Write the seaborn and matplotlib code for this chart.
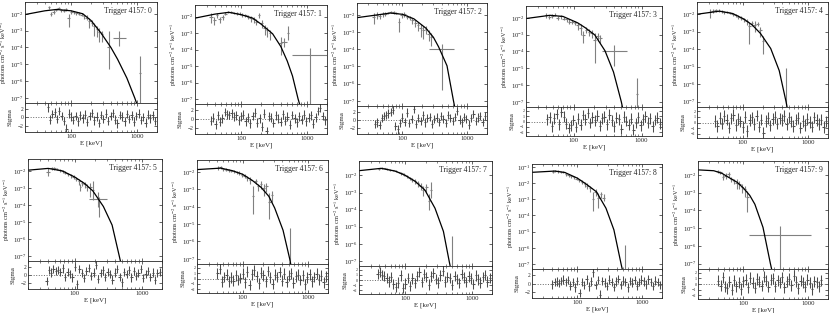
import numpy as np
import matplotlib
matplotlib.use("Agg")
import matplotlib.pyplot as plt
import matplotlib.ticker as ticker
import seaborn as sns

# spectral fits of trigger 4157, time bins 0..9
# model curve per bin: (E keV, photons cm-2 s-1 keV-1)
model0 = [(20, 9e-3), (40, 1.5e-2), (60, 1.8e-2), (100, 1.5e-2), (150, 1.0e-2), (200, 4e-3),
          (285, 7e-4), (400, 1e-4), (505, 2e-5), (700, 1.5e-6), (920, 1e-7), (1000, 4e-8)]
model1 = [(20, 8e-3), (40, 1.4e-2), (65, 1.8e-2), (100, 1.3e-2), (150, 8e-3), (200, 3.5e-3),
          (300, 9e-4), (400, 1.5e-4), (500, 2e-5), (600, 2.5e-6), (730, 1e-7), (780, 4e-8)]
model2 = [(20, 7e-3), (40, 1.0e-2), (65, 1.3e-2), (100, 1.1e-2), (150, 6e-3), (230, 1.7e-3),
          (300, 5e-4), (360, 1.4e-4), (485, 1.1e-5), (610, 1e-7), (640, 4e-8)]
model3 = [(20, 9e-3), (45, 1.4e-2), (70, 1.2e-2), (115, 5e-3), (150, 2.5e-3), (205, 9.6e-4),
          (290, 1.1e-4), (387, 6e-6), (505, 1e-7), (530, 4e-8)]
model4 = [(20, 1e-2), (44, 1.5e-2), (70, 1.1e-2), (103, 5.4e-3), (140, 2.4e-3), (186, 8e-4),
          (267, 1.1e-4), (360, 6e-6), (458, 1e-7), (480, 4e-8)]
model5 = [(20, 1.1e-2), (40, 1.4e-2), (65, 1.0e-2), (100, 4.3e-3), (140, 1.8e-3), (186, 6.6e-4),
          (267, 8e-5), (360, 6.5e-6), (460, 1e-7), (485, 4e-8)]
model6 = [(20, 1.4e-2), (46, 1.7e-2), (70, 1.2e-2), (100, 7.4e-3), (140, 3.3e-3), (191, 1.3e-3),
          (250, 4e-4), (307, 8.5e-5), (412, 4.4e-6), (520, 1e-7), (545, 4e-8)]
model7 = [(20, 1.9e-2), (43, 2.6e-2), (70, 1.8e-2), (100, 1e-2), (140, 4.5e-3), (196, 1.4e-3),
          (278, 1.2e-4), (372, 5.3e-6), (453, 1e-7), (475, 4e-8)]
model8 = [(20, 4.6e-2), (45, 5.5e-2), (64, 4.5e-2), (100, 2.0e-2), (140, 8e-3), (196, 2.9e-3),
          (275, 2.8e-4), (364, 1.3e-5), (470, 1e-7), (495, 4e-8)]
model9 = [(20, 1.9e-2), (35, 1.7e-2), (47, 1.2e-2), (60, 7e-3), (80, 3.8e-3), (100, 1.8e-3),
          (125, 7e-4), (150, 2.2e-4), (200, 1.1e-5), (260, 1e-7), (275, 4e-8)]

# measured points per bin: (E low, E high, flux, flux low, flux high)
spec0 = [(44, 48, 2.5e-2, 2.0e-2, 3.0e-2), (48, 52, 1.0e-2, 7e-3, 1.3e-2), (52, 57, 1.3e-2, 1.0e-2, 1.6e-2),
         (57, 62, 1.7e-2, 1.4e-2, 2.0e-2), (62, 68, 2.1e-2, 1.8e-2, 2.4e-2), (68, 74, 1.6e-2, 1.3e-2, 1.9e-2),
         (74, 81, 1.5e-2, 1.2e-2, 1.8e-2), (81, 88, 1.8e-2, 1.5e-2, 2.1e-2), (88, 96, 6e-3, 1.6e-3, 1.0e-2),
         (96, 105, 1.3e-2, 1.0e-2, 1.6e-2), (105, 115, 1.2e-2, 1.0e-2, 1.4e-2), (115, 126, 1.1e-2, 9e-3, 1.3e-2),
         (126, 138, 1.0e-2, 8e-3, 1.2e-2), (138, 151, 9e-3, 7e-3, 1.1e-2), (151, 165, 7e-3, 5e-3, 9e-3),
         (165, 180, 6e-3, 4e-3, 8e-3), (180, 197, 3.5e-3, 1.5e-3, 5.5e-3), (197, 215, 3e-3, 1.8e-3, 4.2e-3),
         (215, 235, 1.8e-3, 5e-4, 3e-3), (235, 257, 1.2e-3, 4e-4, 2e-3), (257, 281, 8e-4, 2e-4, 1.4e-3),
         (281, 307, 6e-4, 2e-4, 1e-3), (355, 385, 1e-4, 5e-6, 1e-3), (425, 670, 3.5e-4, 1.2e-4, 1.0e-3),
         (1050, 1150, 3e-6, 1e-9, 3e-5)]
spec1 = [(33, 37, 1.0e-2, 4e-3, 1.6e-2), (37, 41, 6e-3, 3e-3, 9e-3), (41, 45, 1.2e-2, 8e-3, 1.6e-2),
         (45, 50, 7e-3, 4e-3, 1.0e-2), (50, 55, 9e-3, 6e-3, 1.2e-2), (55, 61, 1.5e-2, 1.2e-2, 1.8e-2),
         (61, 67, 1.9e-2, 1.6e-2, 2.2e-2), (67, 74, 2.0e-2, 1.7e-2, 2.3e-2), (74, 82, 1.7e-2, 1.4e-2, 2.0e-2),
         (82, 90, 1.6e-2, 1.3e-2, 1.9e-2), (90, 100, 1.5e-2, 1.2e-2, 1.8e-2), (100, 110, 1.3e-2, 1.0e-2, 1.6e-2),
         (110, 121, 1.2e-2, 9e-3, 1.5e-2), (121, 133, 1.0e-2, 7e-3, 1.3e-2), (133, 147, 8e-3, 5e-3, 1.1e-2),
         (147, 162, 7e-3, 4e-3, 1.0e-2), (162, 178, 5e-3, 3e-3, 7e-3), (178, 196, 1.2e-2, 8e-3, 1.6e-2),
         (196, 216, 4e-3, 2e-3, 6e-3), (216, 238, 2e-3, 8e-4, 3.2e-3), (238, 262, 1.5e-3, 6e-4, 2.4e-3),
         (262, 288, 1e-3, 4e-4, 1.6e-3), (380, 420, 2.5e-4, 5e-5, 6e-4), (400, 500, 3e-4, 1.5e-4, 5e-4),
         (500, 540, 1e-3, 4e-4, 2.5e-3), (600, 2000, 4.4e-5, 1e-9, 1.3e-4)]
spec2 = [(34, 38, 8e-3, 3e-3, 1.3e-2), (38, 42, 1.0e-2, 6e-3, 1.4e-2), (42, 47, 9e-3, 6e-3, 1.2e-2),
         (47, 52, 1.1e-2, 8e-3, 1.4e-2), (52, 57, 1.2e-2, 9e-3, 1.5e-2), (57, 63, 1.3e-2, 1.1e-2, 1.5e-2),
         (63, 70, 1.5e-2, 1.3e-2, 1.7e-2), (70, 77, 1.4e-2, 1.2e-2, 1.6e-2), (77, 85, 1.3e-2, 1.1e-2, 1.5e-2),
         (85, 93, 4e-3, 1e-3, 7e-3), (93, 102, 1.0e-2, 7e-3, 1.3e-2), (102, 112, 1.1e-2, 8e-3, 1.4e-2),
         (112, 124, 8e-3, 6e-3, 1e-2), (124, 136, 7e-3, 5e-3, 9e-3), (136, 150, 5e-3, 3e-3, 7e-3),
         (150, 165, 3.5e-3, 2e-3, 5e-3), (165, 182, 2.5e-3, 1.2e-3, 3.8e-3), (182, 200, 1.8e-3, 5e-4, 3e-3),
         (200, 220, 1.3e-3, 4e-4, 2.2e-3), (220, 242, 1.5e-3, 8e-4, 2.2e-3), (242, 266, 8e-4, 3e-4, 1.3e-3),
         (266, 293, 5e-4, 1.5e-4, 9e-4), (260, 630, 1e-4, 4e-7, 2e-4)]
spec3 = [(38, 42, 1.4e-2, 1.0e-2, 1.8e-2), (42, 46, 1.1e-2, 8e-3, 1.4e-2), (46, 51, 1.3e-2, 1e-2, 1.6e-2),
         (51, 56, 1.5e-2, 1.2e-2, 1.8e-2), (56, 62, 1.0e-2, 7e-3, 1.3e-2), (62, 68, 1.2e-2, 9e-3, 1.5e-2),
         (68, 75, 9e-3, 7e-3, 1.1e-2), (75, 83, 8e-3, 6e-3, 1e-2), (83, 91, 6e-3, 4e-3, 8e-3),
         (91, 100, 6e-3, 4.5e-3, 7.5e-3), (100, 110, 5e-3, 3.5e-3, 6.5e-3), (110, 121, 3.5e-3, 2e-3, 5e-3),
         (121, 133, 2.5e-3, 1e-3, 4e-3), (133, 146, 1e-3, 3e-4, 1.7e-3), (146, 161, 2e-3, 1.2e-3, 2.8e-3),
         (161, 177, 1.5e-3, 8e-4, 2.2e-3), (177, 195, 1.2e-3, 6e-4, 1.8e-3), (195, 215, 5e-4, 2e-5, 1.2e-3),
         (215, 237, 8e-4, 4e-4, 1.2e-3), (237, 260, 6e-4, 3e-4, 9e-4), (260, 610, 1e-4, 1.3e-5, 2.5e-4),
         (840, 900, 3e-7, 1e-9, 2.5e-6)]
spec4 = [(30, 33, 1.3e-2, 6e-3, 2e-2), (33, 37, 1.6e-2, 1.2e-2, 2e-2), (37, 41, 1.7e-2, 1.4e-2, 2e-2),
         (41, 45, 1.6e-2, 1.3e-2, 1.9e-2), (45, 50, 1.5e-2, 1.2e-2, 1.8e-2), (50, 55, 1.3e-2, 1.1e-2, 1.5e-2),
         (55, 61, 1.4e-2, 1.2e-2, 1.6e-2), (61, 67, 1.2e-2, 1e-2, 1.4e-2), (67, 74, 1.0e-2, 8e-3, 1.2e-2),
         (74, 82, 9e-3, 7e-3, 1.1e-2), (82, 90, 7e-3, 5.5e-3, 8.5e-3), (90, 99, 6e-3, 4.5e-3, 7.5e-3),
         (99, 109, 5e-3, 3.5e-3, 6.5e-3), (109, 120, 4e-3, 2.5e-3, 5.5e-3), (120, 132, 2e-3, 2e-4, 3.5e-3),
         (132, 145, 3e-3, 2e-3, 4e-3), (145, 160, 2.5e-3, 1e-3, 4e-3), (160, 176, 2.8e-3, 2e-3, 3.6e-3),
         (176, 194, 1.2e-3, 5e-4, 1.9e-3), (194, 214, 3e-4, 5e-5, 6e-4), (440, 480, 1e-8, 1e-9, 8.8e-6)]
spec5 = [(37, 43, 9e-3, 5e-3, 1.4e-2), (43, 47, 1.5e-2, 1.2e-2, 1.8e-2), (47, 52, 1.4e-2, 1.1e-2, 1.7e-2),
         (52, 57, 1.3e-2, 1.1e-2, 1.5e-2), (57, 63, 1.1e-2, 9e-3, 1.3e-2), (63, 69, 1.0e-2, 8e-3, 1.2e-2),
         (69, 76, 8e-3, 6.5e-3, 9.5e-3), (76, 84, 6.5e-3, 5e-3, 8e-3), (84, 92, 5.5e-3, 4e-3, 7e-3),
         (92, 101, 4.5e-3, 3.5e-3, 5.5e-3), (101, 111, 3.5e-3, 2.5e-3, 4.5e-3), (111, 122, 2.5e-3, 1.5e-3, 3.5e-3),
         (118, 124, 1.2e-3, 7e-4, 1.7e-3), (122, 134, 2e-3, 1.3e-3, 2.7e-3), (134, 147, 1.6e-3, 1e-3, 2.2e-3),
         (147, 162, 1.2e-3, 7e-4, 1.7e-3), (162, 178, 1.1e-3, 3e-4, 2e-3), (178, 196, 8e-4, 2e-4, 2.5e-3),
         (165, 300, 2.1e-4, 8e-5, 6e-4), (220, 240, 1.5e-4, 2e-5, 3e-4)]
spec6 = [(40, 44, 1.8e-2, 1.4e-2, 2.2e-2), (44, 48, 2.0e-2, 1.6e-2, 2.4e-2), (48, 53, 1.5e-2, 1.2e-2, 1.8e-2),
         (53, 58, 1.4e-2, 1.1e-2, 1.7e-2), (58, 64, 1.3e-2, 1.0e-2, 1.6e-2), (64, 70, 1.2e-2, 1.0e-2, 1.4e-2),
         (70, 77, 1.1e-2, 9e-3, 1.3e-2), (77, 85, 1.0e-2, 8e-3, 1.2e-2), (85, 93, 9e-3, 7e-3, 1.1e-2),
         (93, 102, 7e-3, 5.5e-3, 8.5e-3), (102, 112, 6e-3, 4.5e-3, 7.5e-3), (112, 124, 4.5e-3, 3e-3, 6e-3),
         (124, 136, 3.5e-3, 2e-3, 5e-3), (136, 150, 4e-4, 4e-5, 1.5e-3), (150, 165, 3e-3, 2e-3, 4e-3),
         (165, 181, 1.5e-3, 8e-4, 2.2e-3), (181, 199, 2e-3, 1e-3, 3e-3), (199, 219, 1.2e-3, 4e-4, 2e-3),
         (219, 241, 1.5e-3, 7e-4, 2.3e-3), (241, 265, 2e-4, 2e-5, 6e-4), (265, 291, 5e-4, 2e-4, 8e-4),
         (510, 550, 1e-8, 1e-9, 5.6e-6)]
spec7 = [(38, 42, 2.4e-2, 2.0e-2, 2.8e-2), (42, 46, 2.7e-2, 2.3e-2, 3.1e-2), (46, 51, 2.6e-2, 2.3e-2, 2.9e-2),
         (51, 56, 2.4e-2, 2.1e-2, 2.7e-2), (56, 62, 2.2e-2, 1.9e-2, 2.5e-2), (62, 68, 2.0e-2, 1.8e-2, 2.2e-2),
         (68, 75, 1.8e-2, 1.6e-2, 2.0e-2), (75, 83, 1.5e-2, 1.3e-2, 1.7e-2), (83, 91, 1.3e-2, 1.1e-2, 1.5e-2),
         (91, 100, 1.1e-2, 9e-3, 1.3e-2), (100, 110, 9e-3, 7.5e-3, 1.05e-2), (110, 121, 7e-3, 5.5e-3, 8.5e-3),
         (121, 133, 5.5e-3, 4e-3, 7e-3), (133, 146, 4.5e-3, 3.2e-3, 5.8e-3), (146, 161, 3.5e-3, 2.2e-3, 4.8e-3),
         (161, 177, 2.5e-3, 1.5e-3, 3.5e-3), (177, 195, 1.5e-3, 6e-4, 2.4e-3), (195, 215, 2e-3, 1e-3, 3e-3),
         (215, 237, 3e-4, 1e-4, 8e-4), (230, 250, 1.5e-3, 5e-4, 4e-3), (480, 510, 1e-8, 1e-9, 2.8e-6)]
spec8 = [(40, 44, 5e-2, 4e-2, 6e-2), (44, 48, 5.5e-2, 4.5e-2, 6.5e-2), (48, 53, 5.2e-2, 4.4e-2, 6e-2),
         (53, 58, 5e-2, 4.3e-2, 5.7e-2), (58, 64, 4.6e-2, 4e-2, 5.2e-2), (64, 70, 3.5e-2, 2.8e-2, 4.2e-2),
         (70, 77, 3.0e-2, 2.5e-2, 3.5e-2), (77, 85, 2.6e-2, 2.1e-2, 3.1e-2), (85, 93, 2.3e-2, 1.9e-2, 2.7e-2),
         (93, 102, 1.9e-2, 1.5e-2, 2.3e-2), (102, 112, 1.5e-2, 1.2e-2, 1.8e-2), (112, 124, 1.2e-2, 9e-3, 1.5e-2),
         (124, 136, 9e-3, 6e-3, 1.2e-2), (136, 150, 7e-3, 4.5e-3, 9.5e-3), (150, 165, 5e-3, 3e-3, 7e-3),
         (165, 181, 1e-3, 2e-4, 3e-3), (181, 199, 3e-3, 1.5e-3, 4.5e-3), (199, 219, 1.2e-3, 3e-4, 2.5e-3),
         (219, 241, 2e-3, 1.2e-3, 2.8e-3), (241, 265, 1.2e-3, 8e-4, 2e-3), (520, 560, 1e-8, 1e-9, 1.5e-6)]
spec9 = [(38, 42, 1.6e-2, 1.3e-2, 1.9e-2), (42, 46, 1.4e-2, 1.1e-2, 1.7e-2), (46, 51, 8e-3, 5e-3, 1.1e-2),
         (51, 56, 9e-3, 6e-3, 1.2e-2), (56, 62, 1.1e-2, 8e-3, 1.4e-2), (62, 68, 6e-3, 4e-3, 8e-3),
         (68, 75, 4.5e-3, 3e-3, 6e-3), (75, 83, 3.5e-3, 1.5e-3, 5.5e-3), (83, 91, 3e-3, 1.5e-3, 4.5e-3),
         (91, 100, 2e-3, 1e-3, 3e-3), (100, 110, 1.5e-3, 6e-4, 2.4e-3), (110, 121, 6e-4, 8.6e-5, 1.2e-3),
         (120, 1100, 4e-6, 1e-9, 1.4e-5)]

# detector channel energies (keV) used for the residual panels
chan_e = [35, 38, 41, 44.5, 48, 52, 56.5, 61, 66, 72, 78, 84.5, 92, 99.5, 108, 117, 127, 138, 149, 162,
          176, 190, 206, 224, 243, 263, 285, 309, 336, 364, 395, 428, 465, 504, 547, 593, 644, 698, 757, 822,
          891, 967, 1049, 1138, 1235, 1340, 1454, 1577, 1711, 1857]
nan = np.nan
res0 = [nan, nan, nan, 2.4, -0.5, 0.8, 1.2, -0.3, 1.5, 0.4, -0.8, -2.6, 0.9, 0.2, -0.6, 0.3, -0.9, 0.5, -0.2, 0.7,
        -1.1, 0.4, 1.0, -0.7, 0.2, -1.3, 0.6, -0.4, 0.9, -0.8, 0.3, 1.1, -0.5, -1.4, 0.6, 0.2, -0.9, 0.8, -0.3, 0.5,
        -1.0, 0.4, 0.9, -0.6, 0.1, -1.2, 0.7, -0.2, 0.5, -0.8]
res1 = [-0.4, 0.3, -1.2, 0.8, -0.6, 0.2, 1.6, 1.1, 0.9, 1.3, 0.5, 0.8, -0.3, 0.6, 1.0, -0.5, 0.4, -1.0, 0.7, 1.4,
        -0.8, 0.2, -1.7, 1.2, -2.8, 0.6, 0.3, -0.9, 0.8, 0.1, -0.6, 1.1, -0.4, 0.5, -1.3, 0.9, 0.2, -0.7, 0.6, -0.2,
        1.0, -0.5, 0.3, 0.8, -1.1, 0.4, 1.8, 2.6, 0.7, -0.3]
res2 = [nan, -1.0, -0.6, -1.2, 0.5, 0.9, 1.2, 1.6, 2.0, 2.4, -1.5, -2.3, -0.8, 0.6, -0.4, 1.8, -0.7, 0.3, 2.6, -0.9,
        0.5, -0.3, 1.1, -0.6, 0.4, 0.8, -1.0, 0.2, 0.6, -0.5, 0.9, 0.3, -0.8, 1.2, 0.4, -0.3, 0.7, 2.2, 0.1, -0.6,
        0.8, 0.3, -1.1, 0.5, 1.4, -0.2, 0.6, 1.0, -0.4, 0.9]
res3 = [nan, nan, 0.4, 0.8, -0.9, 0.6, 1.4, -0.5, 1.8, 0.9, -0.4, -1.2, -0.7, 0.3, -1.0, 0.5, -0.6, 1.2, 0.4, 1.6,
        -0.3, 0.8, 0.2, 1.1, -0.8, 0.6, 0.9, -0.5, 1.3, 0.2, -0.9, 0.7, 0.4, -1.4, 0.9, 0.1, -0.6, 0.5, -1.5, -0.3,
        0.8, -0.7, 0.4, 1.0, -0.2, 0.6, -0.9, 0.3, 0.7, -0.4]
res4 = [nan, 0.3, -0.6, 0.8, -0.2, 1.1, 0.5, -0.9, 0.7, 1.3, -0.4, 0.6, 0.2, -0.8, 1.0, -1.5, 0.4, 0.9, -0.3, 1.2,
        -0.7, 0.5, -1.8, 0.3, 0.8, -0.5, 0.6, 1.0, -0.2, 0.7, 0.4, 1.1, -0.3, 0.9, 0.2, -0.6, 0.5, 0.8, -0.9, 0.3,
        -0.4, 0.6, 0.1, -0.7, 0.9, 0.4, -0.3, 0.5, -0.8, 0.2]
res5 = [nan, -1.5, 1.2, 0.6, 1.5, 0.9, 1.3, 0.7, 1.6, -0.4, 0.8, 0.3, -0.6, 2.0, -2.3, 1.4, 0.5, -0.8, 0.9, 1.7,
        -0.3, 0.6, 2.4, -0.9, 0.4, 1.1, -0.5, 0.8, 0.3, -1.1, 0.6, 1.5, -0.4, -1.8, 0.7, 0.2, 1.2, -0.6, 0.9, -0.3,
        0.5, 1.4, -0.8, 0.3, 1.0, -0.5, 0.6, -1.2, 0.4, 0.8]
res6 = [nan, nan, 1.0, 1.8, -0.6, 0.3, 0.7, -0.5, 0.2, -0.4, 0.6, -0.3, 0.1, 0.9, -0.7, 1.3, -1.2, 0.8, 1.5, 0.4,
        -0.9, 1.1, 0.6, -0.5, 1.4, 0.2, -1.0, 0.7, 0.3, 1.2, -0.4, 0.9, -0.6, 0.5, 1.0, -0.8, 0.4, 0.7, -0.3, 0.6,
        -1.1, 0.2, 0.8, -0.5, 0.3, 0.9, -0.2, 0.5, -0.7, 0.4]
res7 = [nan, 1.2, 1.6, 1.0, 0.8, 0.4, -0.3, 0.6, -0.8, -1.4, -0.5, 0.9, -1.6, -0.7, 0.4, -1.1, 0.3, -0.6, 0.8, 1.5,
        -0.4, 1.1, 0.6, -0.9, 0.7, 1.3, 0.2, -0.5, 0.9, 1.8, -0.3, 0.6, 0.4, -1.0, 0.8, 0.2, -0.6, 1.1, 0.5, -0.4,
        0.7, 0.3, -0.8, 0.9, 0.1, -0.5, 0.6, 1.0, -0.3, 0.4]
res8 = [nan, nan, -0.2, 0.3, 0.5, 0.1, 0.6, 0.9, 0.4, 0.8, -0.5, 0.3, -0.9, 0.6, -2.2, 0.4, -0.3, 1.0, -0.7, 0.5,
        2.6, -0.4, 0.8, -2.6, 0.6, 0.2, -0.6, 0.9, 0.3, -0.8, 0.5, 1.1, -0.3, 0.7, 0.4, -0.9, 0.6, 0.2, 0.8, -0.5,
        0.3, 0.9, 0.5, -0.2, 1.0, 0.4, -0.6, 0.7, 0.3, -0.4]
res9 = [nan, nan, 0.6, -0.3, 1.2, -0.5, -0.8, 0.4, -1.0, 0.7, -0.4, 0.3, -0.9, 0.5, 0.8, -0.6, 1.1, 0.2, -0.7, 0.9,
        0.4, -0.3, 1.3, 0.6, -0.5, 0.8, 1.0, -0.4, 0.7, 0.3, 1.2, -0.6, 0.5, 0.9, -0.2, 1.5, 0.4, -0.8, 0.6, 0.3,
        -0.5, 0.8, 0.2, -0.9, 0.5, 0.3, -0.4, 0.7, nan, nan]

models = [model0, model1, model2, model3, model4, model5, model6, model7, model8, model9]
specs = [spec0, spec1, spec2, spec3, spec4, spec5, spec6, spec7, spec8, spec9]
resids = [res0, res1, res2, res3, res4, res5, res6, res7, res8, res9]

# panel boxes in pixels: left, right, top, bottom of spectrum, bottom of residuals
boxes = [(25, 157, 2, 103, 132), (195, 327, 5, 104, 134), (357, 487, 3, 106, 134),
         (526, 662, 6, 107, 136), (697, 828, 2, 107, 138),
         (28, 162, 159, 261, 289), (197, 328, 160, 264, 293), (359, 492, 161, 266, 294),
         (532, 662, 164, 269, 298), (698, 828, 161, 269, 299)]
ytops = [5e-2, 5e-2, 5e-2, 5e-2, 5e-2, 5e-2, 5e-2, 7e-2, 1.5e-1, 6e-2]
crowded = [3, 4, 6, 7, 9]

sns.set_theme(style="ticks")
plt.rcParams['font.family'] = ['Liberation Serif', 'DejaVu Serif']
plt.rcParams['mathtext.fontset'] = 'stix'
plt.rcParams['axes.linewidth'] = 0.6

W, H = 830, 313
fig = plt.figure(figsize=(W / 100, H / 100), dpi=100)
fig.patch.set_facecolor('white')

ce = np.array(chan_e)
edges = np.sqrt(ce[:-1] * ce[1:])
c_lo = np.concatenate([[ce[0] * 0.96], edges])
c_hi = np.concatenate([edges, [ce[-1] * 1.04]])

for k in range(10):
    l, r, t, mb, rb = boxes[k]
    ax = fig.add_axes([l / W, 1 - mb / H, (r - l) / W, (mb - t) / H])
    rax = fig.add_axes([l / W, 1 - rb / H, (r - l) / W, (rb - mb) / H], sharex=ax)
    ax.set_xscale('log')
    ax.set_yscale('log')
    ax.set_xlim(20, 2000)
    ax.set_ylim(5e-8, ytops[k])

    sp = np.array(specs[k])
    ec = np.sqrt(sp[:, 0] * sp[:, 1])
    ax.errorbar(ec, sp[:, 2], xerr=[ec - sp[:, 0], sp[:, 1] - ec],
                yerr=[sp[:, 2] - sp[:, 3], sp[:, 4] - sp[:, 2]],
                fmt='none', ecolor='0.5', elinewidth=0.8, capsize=0)

    md = np.array(models[k])
    sns.lineplot(x=md[:, 0], y=md[:, 1], ax=ax, color='black', linewidth=0.9,
                 estimator=None, sort=False)

    ax.text(0.96, 0.95, f"Trigger 4157: {k}", transform=ax.transAxes,
            ha='right', va='top', fontsize=5.5)
    ax.set_ylabel("photons cm$^{-2}$ s$^{-1}$ keV$^{-1}$", fontsize=4.5, labelpad=0.3)
    # only the decades inside the visible range get a tick
    ax.set_yticks([10.0 ** p for p in range(-7, 0) if 10.0 ** p <= ytops[k]])
    ax.yaxis.set_major_formatter(ticker.LogFormatterSciNotation())
    ax.yaxis.set_minor_locator(ticker.NullLocator())
    ax.tick_params(labelbottom=False)

    # residuals
    rs = np.array(resids[k])
    rax.axhline(0, ls=':', color='0.4', lw=0.7)
    rax.errorbar(ce, rs, xerr=[ce - c_lo, c_hi - ce], yerr=1,
                 fmt='none', ecolor='0.3', elinewidth=0.75, capsize=0)
    if k in crowded:
        rax.set_ylim(-2.7, 2.7)
        rax.set_yticks([-2, -1, 0, 1, 2])
    else:
        rax.set_ylim(-3.4, 3.4)
        rax.set_yticks([-2, 0, 2])
    rax.set_ylabel("Sigma", fontsize=5, labelpad=4)
    rax.set_xlabel("E [keV]", fontsize=5, labelpad=1)
    rax.set_xticks([100, 1000])
    rax.xaxis.set_major_formatter(ticker.FuncFormatter(lambda v, p: f"{int(round(v))}"))
    rax.xaxis.set_minor_formatter(ticker.NullFormatter())
    rax.set_xlim(20, 2000)

    for a in (ax, rax):
        a.tick_params(which='major', direction='in', top=True, right=True,
                      length=2.5, width=0.5, labelsize=4.8, pad=1.2)
        a.tick_params(which='minor', direction='in', top=True, right=True,
                      length=1.3, width=0.4)
    rax.tick_params(axis='y', labelsize=4.0, pad=1)
    if k in crowded:
        rax.tick_params(axis='y', labelsize=3.0, pad=1)

fig.savefig("out.png", dpi=100)
